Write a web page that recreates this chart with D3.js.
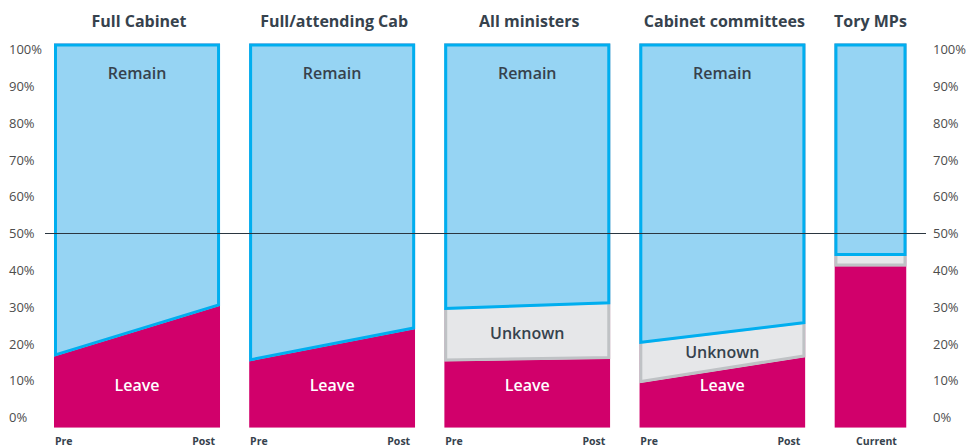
<!DOCTYPE html>
<html>
  <head>
    <meta charset="utf-8">
    <script src="https://d3js.org/d3.v7.min.js"></script>
    <style>
      body { margin: 0; background: #fff; }
      text { font-family: "Open Sans", sans-serif; }
    </style>
  </head>
  <body>
    <script type="text/javascript">

      // chart data (shares of each group)
      var panels  = ["Full Cabinet", "Full/attending Cab", "All ministers", "Cabinet committees", "Tory MPs"];
      var periods = [["Pre", "Post"], ["Pre", "Post"], ["Pre", "Post"], ["Pre", "Post"], ["Current"]];
      var leave   = [[0.165, 0.303], [0.152, 0.240], [0.152, 0.159], [0.093, 0.164], [0.410]];
      var unknown = [[0, 0], [0, 0], [0.140, 0.149], [0.107, 0.090], [0.029]];
      var remain  = [[0.835, 0.697], [0.848, 0.760], [0.708, 0.692], [0.800, 0.746], [0.561]];
      var yTicks  = [0, 0.1, 0.2, 0.3, 0.4, 0.5, 0.6, 0.7, 0.8, 0.9, 1];

      var width = 966, height = 448;
      var BASE = -0.028, TOP = 1.016;   // bars run a little past 0% / 100%

      var colors = {
        leave: "#d1006b",
        unknown: "#e6e7e9", unknownLine: "#bfc2c5",
        remain: "#96d4f3", remainLine: "#00aeef",
        text: "#36424d", axis: "#4d4d4d"
      };

      var svg = d3.select("body")
        .append("svg")
          .attr("width", width)
          .attr("height", height);

      var y = d3.scaleLinear().domain([0, 1]).range([417.5, 49.5]);

      // panels laid out in "bar units": four full bars and a narrow one
      var gap = 0.175, narrow = 0.434;
      var starts = panels.map(function (d, i) { return i * (1 + gap); });
      var widths = panels.map(function (d, i) { return periods[i].length > 1 ? 1 : narrow; });
      var x = d3.scaleLinear()
        .domain([0, starts[4] + widths[4]])
        .range([54, 906.5]);

      function pointsX(i) {
        var x0 = x(starts[i]), x1 = x(starts[i] + widths[i]);
        return [x0, x1];
      }

      // polygon from a lower boundary (one value per period) to a fixed top
      function shape(i, lower, top) {
        var xs = pointsX(i);
        var lo = lower.length > 1 ? lower : [lower[0], lower[0]];
        return "M" + xs[0] + "," + y(lo[0]) +
               "L" + xs[1] + "," + y(lo[1]) +
               "L" + xs[1] + "," + y(top) +
               "L" + xs[0] + "," + y(top) + "Z";
      }

      var defs = svg.append("defs");
      var clipId = 0;

      // fill + inside border (border clipped to the shape itself)
      function layer(g, d, fill, line) {
        var id = "clip" + (clipId++);
        defs.append("clipPath").attr("id", id)
          .append("path").attr("d", d);
        g.append("path")
          .attr("d", d)
          .attr("fill", fill)
          .attr("stroke", line || "none")
          .attr("stroke-width", 6)
          .attr("clip-path", "url(#" + id + ")");
      }

      panels.forEach(function (name, i) {
        var g = svg.append("g").attr("class", "panel");
        var xs = pointsX(i);
        var cx = (xs[0] + xs[1]) / 2;

        layer(g, shape(i, [BASE], TOP), colors.leave, null);

        var hasUnknown = unknown[i].some(function (v) { return v > 0; });
        if (hasUnknown) {
          layer(g, shape(i, leave[i], TOP), colors.unknown, colors.unknownLine);
        }

        var remainLow = remain[i].map(function (v) { return 1 - v; });
        layer(g, shape(i, remainLow, TOP), colors.remain, colors.remainLine);

        // title
        svg.append("text")
          .attr("x", cx + (i < 4 ? 2 : 0))
          .attr("y", 27)
          .attr("text-anchor", "middle")
          .style("font-size", "16px")
          .style("font-weight", 700)
          .style("fill", colors.text)
          .text(name);

        // period labels under the bar
        var labelY = 445;
        if (periods[i].length > 1) {
          svg.append("text")
            .attr("x", xs[0] + 1).attr("y", labelY)
            .style("font-size", "10.5px").style("font-weight", 700)
            .style("fill", colors.text)
            .text(periods[i][0]);
          svg.append("text")
            .attr("x", xs[1] - 5).attr("y", labelY)
            .attr("text-anchor", "end")
            .style("font-size", "10.5px").style("font-weight", 700)
            .style("fill", colors.text)
            .text(periods[i][1]);
        } else {
          svg.append("text")
            .attr("x", cx + 6).attr("y", labelY)
            .attr("text-anchor", "middle")
            .style("font-size", "10.5px").style("font-weight", 700)
            .style("fill", colors.text)
            .text(periods[i][0]);
        }

        // section labels (only on the wide bars)
        if (periods[i].length > 1) {
          g.append("text")
            .attr("x", cx).attr("y", y(0.935))
            .attr("dy", "0.35em")
            .attr("text-anchor", "middle")
            .style("font-size", "16px").style("font-weight", 600)
            .style("fill", colors.text)
            .text("Remain");
          g.append("text")
            .attr("x", cx).attr("y", y(0.087))
            .attr("dy", "0.35em")
            .attr("text-anchor", "middle")
            .style("font-size", "16px").style("font-weight", 600)
            .style("fill", "#fff")
            .text("Leave");
          if (hasUnknown) {
            var mid = d3.mean(leave[i].map(function (v, k) {
              return v + unknown[i][k] / 2;
            }));
            g.append("text")
              .attr("x", cx).attr("y", y(mid))
              .attr("dy", "0.35em")
              .attr("text-anchor", "middle")
              .style("font-size", "16px").style("font-weight", 600)
              .style("fill", colors.text)
              .text("Unknown");
          }
        }
      });

      // 50% reference line
      svg.append("line")
        .attr("x1", 45).attr("x2", 926)
        .attr("y1", y(0.5)).attr("y2", y(0.5))
        .attr("stroke", "#2b3640")
        .attr("stroke-width", 1);

      // percentage axes on both sides
      function axis(xPos) {
        var a = svg.append("g")
          .attr("transform", "translate(" + xPos + ",0)")
          .call(d3.axisRight(y).tickValues(yTicks).tickFormat(d3.format(".0%")).tickSize(0));
        a.select(".domain").remove();
        a.selectAll("text")
          .attr("x", 0)
          .style("font-family", "'Open Sans', sans-serif")
          .style("font-size", "13px")
          .style("fill", colors.axis);
      }
      axis(9);
      axis(933);

    </script>
  </body>
</html>
